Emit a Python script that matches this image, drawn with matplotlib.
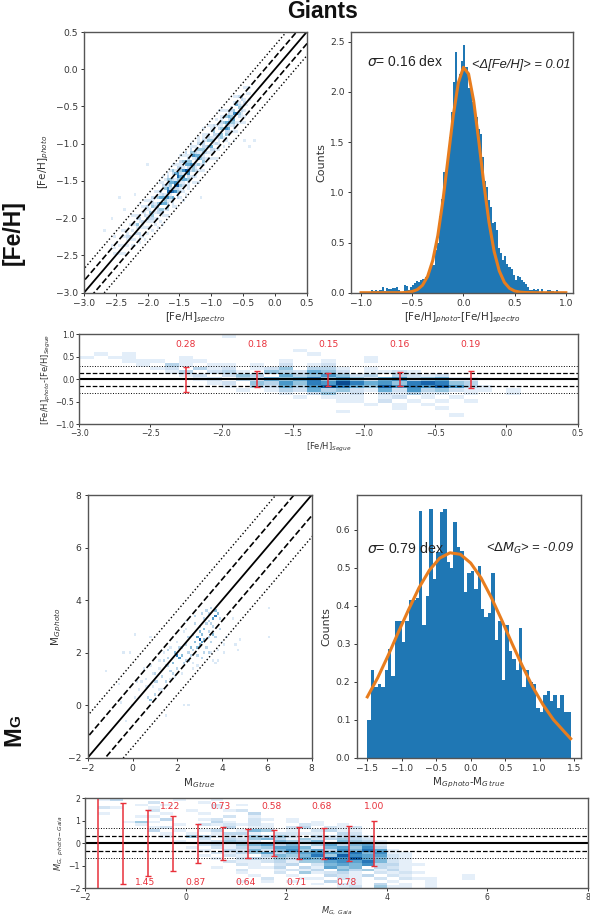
import numpy as np
import matplotlib
matplotlib.use('Agg')
import matplotlib.pyplot as plt

W, H = 590, 922

# histogram [Fe/H]
feh_edges_start = -1.0
feh_bin = 0.02
feh_counts = [.01, .01, 0, 0, .01, .03, .02, .03, .02, .03,
              .06, .02, .05, .04, .04, .05, .05, .06, .03, .01,
              .01, .08, .07, .03, .06, .08, .10, .12, .11, .13,
              .14, .16, .19, .22, .30, .28, .43, .50, .76, .93,
              1.20, 1.20, 1.35, 1.55, 1.80, 2.10, 2.40, 2.10, 2.18, 2.31,
              2.47, 2.25, 2.04, 2.02, 1.90, 1.78, 1.75, 1.63, 1.58, 1.35,
              1.11, 1.05, .92, .85, .69, .70, .62, .45, .40, .33,
              .37, .29, .26, .24, .18, .13, .17, .16, .13, .11,
              .09, .06, .03, .03, .04, .03, .04, .01, .04, .01,
              0, .03, .03, .02, 0, .03, .01, 0, .01, 0]
feh_fit_x = [-1, -.7, -.6, -.55, -.5, -.45, -.4, -.35, -.3, -.25, -.2, -.15, -.1, -.05, 0,
             .05, .1, .15, .2, .25, .3, .35, .4, .45, .5, .55, .6, .7, 1]
feh_fit_y = [0, 0, 0, .004, .012, .031, .074, .162, .32, .57, .92, 1.34, 1.76, 2.09, 2.245,
             2.18, 1.91, 1.51, 1.08, .70, .41, .217, .103, .044, .017, .006, .002, 0, 0]

# histogram MG
mg_start = -1.5
mg_bin = 0.05
mg_counts = [.10, .23, .185, .195, .185, .23, .285, .215, .36, .36,
             .305, .36, .415, .415, .42, .65, .35, .425, .655, .47,
             .54, .645, .655, .515, .50, .62, .555, .545, .435, .485,
             .49, .445, .505, .39, .37, .38, .485, .31, .36, .205,
             .35, .28, .26, .23, .34, .185, .23, .2, .195, .13,
             .12, .165, .175, .15, .165, .13, .165, .12, .12]
mg_fit_x = [-1.5, -1.35, -1.2, -1.05, -.9, -.75, -.6, -.45, -.3, -.15, 0,
            .15, .3, .45, .6, .75, .9, 1.05, 1.2, 1.35, 1.45]
mg_fit_y = [.16, .21, .268, .33, .39, .447, .493, .525, .539, .535, .512,
            .473, .421, .362, .30, .241, .186, .139, .10, .07, .05]

# 1:1 panel, [Fe/H]: offset from the diagonal (+.32 to -.32), columns from -2.68
feh_band = ['0000000000 0000100000 0001000100 1000100001 0000010000 0000000000',
            '0000100000 0100001000 0010011010 0120100100 0100001000 0100000000',
            '0000000100 0010010100 1001120301 2010210101 0010100100 0010010000',
            '0001000010 1001001012 0102030212 1301301201 1012001010 0102001000',
            '0000010100 0102010201 1020213041 2042131032 0102101201 1030200100',
            '0000100011 0010201102 0310324205 3143052302 1203012032 2041201000',
            '0000001002 0103102013 1042053416 2504314132 0312021304 1302010100',
            '0000100101 2001020130 2304162053 4172502413 2031203042 3503120000',
            '0000010010 1020110302 0350427164 3526041523 1302140325 4260310100',
            '0000001001 0102010123 1204351627 1405232031 2041023052 3403201000',
            '0000000100 0010201012 0230413052 3142031302 0120213024 1302110000',
            '0000000010 0100100101 1023021403 1203102013 1012010132 0210100000',
            '0000000000 0010010010 0102130201 2011020102 0101100102 1101010000',
            '0000000000 0000100100 1001020102 0101001010 0010010010 0100100000',
            '0000000000 0000001001 0010100100 1001010001 0001000100 0010010000',
            '0000000000 0000000000 0100010010 0010001000 0000100001 0000000000',
            '0000000000 0000000000 0001000000 0100000100 0000000000 0100000000']
feh_band_offsets = [.32, .28, .24, .20, .16, .12, .08, .04, 0,
                    -.04, -.08, -.12, -.16, -.20, -.24, -.28, -.32]
feh_band_x0 = -2.68
feh_extra_x = [-2.0, -2.7, -2.55, -2.45, -2.35, -1.18, -.4, -.32, -.5, -2.2]
feh_extra_y = [-1.3, -2.15, -2.02, -1.72, -1.88, -1.71, -1.06, -.96, -.98, -1.68]

# 1:1 panel, MG
mg_x = [3.7, 3.6, 3.8, 3.7, 3.5, 3.4, 3.3, 3.6, 3.9, 3.5, 3.0, 3.1, 2.9, 3.1, 3.0, 3.2, 2.8, 2.7, 3.2, 3.0,
        2.8, 3.4, 3.3, 3.5, 3.7, 2.6, 2.6, 2.4, 2.5, 2.4, 2.9, 3.2, 3.5, 3.8, 4.0, 4.2, 3.8, 3.7, 4.1,
        2.0, 2.1, 1.9, 2.2, 1.8, 1.6, 1.5, 1.7, 2.0, 2.3, 2.2, 1.4, 1.7, 2.0, 1.3, 1.1, 1.0, 1.2, .9, 1.0,
        .8, .7, 1.2, .5, .6, .3, .2, .1, 0, -.5, -.6, -1.2, -.3, .1, .8, -.1, -.4, 2.3, 2.5, 1.5, 4.7, 4.8,
        6.05, 6.05, 4.5, 4.6, 2.7, 2.3, 1.9, 3.4, 3.9,
        3.3, 3.4, 2.9, 2.7, 2.5, 2.2, 2.4, 3.0, 3.6, 3.1, 1.6, 1.4, 1.8, 1.2, 1.5, 2.7, 2.9, 3.6, 4.1, 3.2,
        1.0, .9, .7, .4, .6, 1.6, 2.1, 2.4, 2.8, 3.4, 1.3, 1.7, 2.5, 3.1, .8]
mg_y = [3.4, 3.3, 3.5, 3.6, 3.7, 3.5, 3.6, 3.0, 3.3, 3.1, 2.5, 2.4, 2.6, 2.7, 2.3, 2.5, 2.4, 2.7, 2.9, 3.0,
        3.1, 2.8, 2.2, 2.4, 2.6, 2.2, 1.9, 2.3, 2.6, 2.9, 1.9, 2.0, 2.0, 2.1, 2.4, 2.6, 1.7, 1.6, 2.0,
        1.9, 1.8, 2.0, 1.9, 1.6, 1.8, 1.5, 1.3, 1.4, 1.6, 1.2, 2.0, 2.2, 2.4, 1.1, .9, .9, 1.4, 1.2, .4,
        .2, .3, .6, 1.4, .7, .6, .9, .3, 0, .1, .8, 1.3, -.6, 2.7, 2.6, 2.0, 2.0, -.05, -.05, -.4, 2.1, 2.5,
        2.65, 3.7, 3.3, 2.3, 1.4, 2.8, 1.1, 3.2, 2.9,
        3.1, 2.6, 2.2, 2.1, 2.0, 2.2, 1.7, 2.8, 2.7, 1.8, 1.5, 1.7, 1.2, 1.7, .9, 1.6, 1.5, 1.7, 2.3, 3.3,
        1.2, .7, .7, .9, 1.0, 2.1, 2.2, 3.2, 3.4, 2.0, .6, 1.0, 1.7, 3.5, 1.5]
mg_w = [5, 4, 3, 3, 2, 2, 2, 2, 2, 2, 6, 4, 4, 3, 3, 3, 3, 2, 3, 2,
        2, 2, 2, 2, 2, 3, 2, 2, 2, 1, 2, 2, 1, 1, 1, 1, 1, 1, 1,
        5, 4, 3, 3, 3, 2, 2, 2, 2, 2, 1, 1, 1, 1, 2, 2, 2, 1, 1, 2,
        3, 2, 1, 1, 1, 1, 1, 1, 1, 1, 1, 1, 1, 1, 1, 1, 1, 1, 1, 1, 1, 1,
        1, 1, 1, 1, 1, 1, 1, 2, 2,
        2, 2, 3, 2, 2, 2, 2, 3, 3, 2, 2, 2, 2, 1, 2, 1, 1, 1, 1, 2,
        2, 1, 1, 1, 1, 2, 2, 1, 2, 2, 1, 1, 2, 2, 1]

# residual panel [Fe/H], rows from y=.96 down, columns from x=-3.0
seg_feh_rows = ['00000 00000 10000 00000 00000 00000 00000',
                '00000 00000 00000 00000 00000 00000 00000',
                '00000 00000 00000 00000 00000 00000 00000',
                '00000 00000 00000 00000 00000 00000 00000',
                '00000 00000 00000 10000 00000 00000 00000',
                '01010 00000 00000 01000 00000 00000 00000',
                '10110 00100 00000 00000 10000 00000 00000',
                '00011 10110 00001 00100 10000 00000 00000',
                '00001 03101 10102 01200 00000 00000 00000',
                '00000 12031 20124 03310 10000 00000 00000',
                '00000 01302 31043 25420 11210 00000 00000',
                '00000 00120 24305 34642 30321 20000 00000',
                '00000 00012 03254 57464 25634 51100 00000',
                '00000 00001 20436 47697 56478 74300 00000',
                '00000 00000 10325 36875 48676 86310 00000',
                '00000 00000 01013 25342 15263 42110 10000',
                '00000 00000 00001 02412 02131 10100 10000',
                '00000 00000 00000 10111 01201 01000 00000',
                '00000 00000 00000 00011 02010 10100 00000',
                '00000 00000 00000 00000 10101 00000 00000',
                '00000 00000 00000 00000 00100 10000 00000',
                '00000 00000 00000 00010 00000 00000 00000',
                '00000 00000 00000 00000 00000 01000 00000',
                '00000 00000 00000 00000 00000 00000 00000',
                '00000 00000 00000 00000 00000 00000 00000']

# residual panel MG, rows from y=1.94 down, columns from x=-2
gaia_mg_rows = ['0130 0001 0010 0000 0000 0000 0000 0000',
                '0000 0200 0100 0000 0000 0000 0000 0000',
                '0000 1010 0020 1000 0000 0000 0000 0000',
                '0210 0100 0010 0000 0000 0000 0000 0000',
                '0000 0200 1001 2000 0000 0000 0000 0000',
                '0100 0010 0100 0300 0000 0000 0000 0000',
                '0000 1100 0002 0100 0000 0000 0000 0000',
                '0000 0030 0120 0210 1000 0000 0000 0000',
                '0001 4100 0031 0200 1010 0000 0000 0000',
                '0000 1001 0212 1210 0210 1000 0000 0000',
                '0000 0120 0003 0110 2302 1200 0000 0000',
                '0000 0301 0130 1540 1023 1100 0000 0000',
                '0000 0010 1013 3102 2110 3200 0000 0000',
                '0000 0010 4312 1434 2032 3310 0000 0000',
                '0000 0000 0203 2453 1423 4320 0000 0000',
                '0000 0001 0124 3205 4350 5431 0000 0000',
                '0000 0000 0231 4563 5146 3562 0000 0000',
                '0000 0000 1021 3346 6515 6473 0000 0000',
                '0000 0000 0103 2525 7463 7586 1000 0000',
                '0000 0000 0021 3463 5676 6857 1100 0000',
                '0000 0000 0102 1035 4584 9766 2100 0000',
                '0000 0000 0010 2324 3659 7965 2100 0000',
                '0000 0000 0002 1123 1446 7685 2100 0000',
                '0000 0000 0000 2102 3025 6573 3110 0000',
                '0000 0000 0010 0113 0316 4503 2100 0000',
                '0000 0000 0000 2001 2130 5341 3100 0000',
                '0000 0000 0000 1002 0412 3102 1210 0000',
                '0000 0000 0000 0100 1003 2130 2100 0010',
                '0000 0000 0000 0020 0110 2102 0211 0010',
                '0000 0000 0000 1010 1003 0100 1001 0000',
                '0000 0000 0000 0000 0010 2103 0101 0000',
                '0000 0000 0000 0000 0000 1204 1101 0000']

# red error bars
seg_err_x = [-2.25, -1.75, -1.25, -.75, -.25]
seg_err = [.28, .18, .15, .16, .19]
seg_err_labels = ['0.28', '0.18', '0.15', '0.16', '0.19']
gaia_err_x = [-1.75, -1.25, -.75, -.25, .25, .75, 1.25, 1.75, 2.25, 2.75, 3.25, 3.75]
gaia_err = [2.5, 1.8, 1.45, 1.22, .87, .73, .64, .58, .71, .68, .78, 1.0]
gaia_top_x = [-.3, .7, 1.7, 2.7, 3.75]
gaia_top_labels = ['1.22', '0.73', '0.58', '0.68', '1.00']
gaia_bot_x = [-.8, .2, 1.2, 2.2, 3.2]
gaia_bot_labels = ['1.45', '0.87', '0.64', '0.71', '0.78']

feh_ticks = [-3.0, -2.5, -2.0, -1.5, -1.0, -.5, 0, .5]
RED = '#e8303a'
GREY = '#555555'
TXT = '#333333'

plt.rcParams['font.family'] = ['DejaVu Sans']
plt.rcParams['mathtext.default'] = 'regular'


def make_axes(fig, left, right, top, bottom):
    ax = fig.add_axes([left / W, 1 - bottom / H, (right - left) / W, (bottom - top) / H])
    for s in ax.spines.values():
        s.set_color(GREY)
        s.set_linewidth(1.0)
    ax.tick_params(labelsize=6.6, length=2.5, width=.7, pad=2, colors=TXT)
    return ax


def parse_rows(rows):
    return np.array([[int(c) for c in r.replace(' ', '')] for r in rows], dtype=float)


def diag_lines(ax, lo, hi, off1, off2):
    xs = np.array([lo - 3, hi + 3])
    ax.plot(xs, xs, color='k', lw=1.3)
    for o in [off1, -off1]:
        ax.plot(xs, xs + o, color='k', lw=1.2, ls='--')
    for o in [off2, -off2]:
        ax.plot(xs, xs + o, color='k', lw=1.0, ls=':')
    ax.set_xlim(lo, hi)
    ax.set_ylim(lo, hi)


def flat_lines(ax, off1, off2):
    ax.axhline(0, color='k', lw=1.5)
    for o in [off1, -off1]:
        ax.axhline(o, color='k', lw=.9, ls='--')
    for o in [off2, -off2]:
        ax.axhline(o, color='k', lw=.7, ls=':')


def residual_mesh(ax, rows, x0, dx, y_top, dy, vmax):
    z = parse_rows(rows)
    x_edges = x0 + dx * np.arange(z.shape[1] + 1)
    y_edges = y_top - dy * np.arange(z.shape[0] + 1)
    ax.pcolormesh(x_edges, y_edges, np.ma.masked_equal(z, 0), cmap='Blues', vmin=0, vmax=vmax)


fig = plt.figure(figsize=(W / 100, H / 100), dpi=100)

# [Fe/H] one to one
ax = make_axes(fig, 84, 306.7, 32, 292.7)
band = parse_rows(feh_band)
bx, by, bw = list(feh_extra_x), list(feh_extra_y), [1] * len(feh_extra_x)
for i, off in enumerate(feh_band_offsets):
    for j in range(band.shape[1]):
        if band[i, j] > 0:
            xc = feh_band_x0 + .04 * j
            bx.append(xc)
            by.append(xc + off)
            bw.append(band[i, j])
edges = -3 + .04 * np.arange(89) - .02
ax.hist2d(bx, by, bins=[edges, edges], weights=bw, cmap='Blues', vmin=0, vmax=8, cmin=.5)
diag_lines(ax, -3, .5, .16, .32)
ax.set_xticks(feh_ticks)
ax.set_yticks(feh_ticks)
ax.set_xlabel(r'[Fe/H]$_{\mathit{spectro}}$', fontsize=7.5, color=TXT, labelpad=2)
ax.set_ylabel(r'[Fe/H]$_{\mathit{photo}}$', fontsize=7.5, color=TXT, labelpad=3)

# [Fe/H] histogram
ax = make_axes(fig, 351, 573, 32, 292.7)
feh_left = feh_edges_start + feh_bin * np.arange(len(feh_counts))
ax.bar(feh_left, feh_counts, width=feh_bin, align='edge', color='#1f77b4')
ax.plot(feh_fit_x, feh_fit_y, color='#e87d1e', lw=2.2)
ax.set_xlim(-1.098, 1.07)
ax.set_ylim(0, 2.597)
ax.set_xticks([-1, -.5, 0, .5, 1])
ax.set_yticks([0, .5, 1, 1.5, 2, 2.5])
ax.set_xlabel(r'[Fe/H]$_{\mathit{photo}}$-[Fe/H]$_{\mathit{spectro}}$', fontsize=7.5, color=TXT, labelpad=2)
ax.set_ylabel('Counts', fontsize=8, color=TXT, labelpad=3)
ax.text(-.945, 2.3, r'$\mathit{\sigma}$= 0.16 dex', fontsize=10, color='#222222', va='center',
        family='Liberation Sans')
ax.text(.08, 2.27, '<Δ[Fe/H]> = 0.01', fontsize=9.3, color='#222222', va='center', style='italic',
        family='Liberation Sans')

# [Fe/H] residuals
ax = make_axes(fig, 79.3, 577.5, 334.3, 424.3)
ax.tick_params(labelsize=5.6, length=2, pad=1.5)
residual_mesh(ax, seg_feh_rows, -3.0, .1, 1.0, .08, 10)
flat_lines(ax, .15, .30)
ax.errorbar(seg_err_x, np.zeros(len(seg_err)), yerr=seg_err, fmt='none', ecolor=RED, elinewidth=1.1, capsize=2.2,
            capthick=1)
for x, t in zip(seg_err_x, seg_err_labels):
    ax.text(x, .77, t, color=RED, fontsize=6.6, ha='center', va='center')
ax.set_xlim(-3, .5)
ax.set_ylim(-1, 1)
ax.set_xticks(feh_ticks)
ax.set_yticks([-1, -.5, 0, .5, 1])
ax.set_xlabel(r'[Fe/H]$_{\mathit{Segue}}$', fontsize=6, color=TXT, labelpad=2)
ax.set_ylabel(r'[Fe/H]$_{\mathit{photo}}$-[Fe/H]$_{\mathit{Segue}}$', fontsize=6, color=TXT, labelpad=2)

# MG one to one
ax = make_axes(fig, 87.7, 311.7, 495, 757.7)
edges = -2 + .1 * np.arange(101) - .05
ax.hist2d(mg_x, mg_y, bins=[edges, edges], weights=mg_w, cmap='Blues', vmin=0, vmax=7, cmin=.5)
diag_lines(ax, -2, 8, .79, 1.6)
ax.set_xticks([-2, 0, 2, 4, 6, 8])
ax.set_yticks([-2, 0, 2, 4, 6, 8])
ax.set_xlabel(r'M$_{\mathit{G\,true}}$', fontsize=7.5, color=TXT, labelpad=2)
ax.set_ylabel(r'M$_{\mathit{G\,photo}}$', fontsize=7.5, color=TXT, labelpad=3)

# MG histogram
ax = make_axes(fig, 356.7, 581, 495, 757.7)
mg_left = mg_start + mg_bin * np.arange(len(mg_counts))
ax.bar(mg_left, mg_counts, width=mg_bin, align='edge', color='#1f77b4')
ax.plot(mg_fit_x, mg_fit_y, color='#e87d1e', lw=2.2)
ax.set_xlim(-1.654, 1.6)
ax.set_ylim(0, .691)
ax.set_xticks([-1.5, -1, -.5, 0, .5, 1, 1.5])
ax.set_yticks([0, .1, .2, .3, .4, .5, .6])
ax.set_xlabel(r'M$_{\mathit{G\,photo}}$-M$_{\mathit{G\,true}}$', fontsize=7.5, color=TXT, labelpad=2)
ax.set_ylabel('Counts', fontsize=8, color=TXT, labelpad=3)
ax.text(-1.5, .55, r'$\mathit{\sigma}$= 0.79 dex', fontsize=10.2, color='#222222', va='center',
        family='Liberation Sans')
ax.text(.215, .55, r'<$\mathit{\Delta M_G}$> = -0.09', fontsize=9.3, color='#222222', va='center', style='italic',
        family='Liberation Sans')

# MG residuals
ax = make_axes(fig, 85, 588, 798, 888.3)
ax.tick_params(labelsize=5.6, length=2, pad=1.5)
residual_mesh(ax, gaia_mg_rows, -2.0, .25, 2.0, .125, 11)
flat_lines(ax, .33, .66)
ax.errorbar(gaia_err_x, np.zeros(len(gaia_err)), yerr=gaia_err, fmt='none', ecolor=RED, elinewidth=1.1, capsize=2.2,
            capthick=1)
for x, t in zip(gaia_top_x, gaia_top_labels):
    ax.text(x, 1.63, t, color=RED, fontsize=6.6, ha='center', va='center')
for x, t in zip(gaia_bot_x, gaia_bot_labels):
    ax.text(x, -1.75, t, color=RED, fontsize=6.6, ha='center', va='center')
ax.set_xlim(-2, 8)
ax.set_ylim(-2, 2)
ax.set_xticks([-2, 0, 2, 4, 6, 8])
ax.set_yticks([-2, -1, 0, 1, 2])
ax.set_xlabel(r'$\mathit{M_{G,\ Gaia}}$', fontsize=6, color=TXT, labelpad=2)
ax.set_ylabel(r'$\mathit{M_{G,\ photo-Gaia}}$', fontsize=6, color=TXT, labelpad=2)

# big titles
fig.text(323 / W, 1 - 12 / H, 'Giants', fontsize=16.5, fontweight='bold', family='Liberation Sans',
         ha='center', va='center', color='#111111')
fig.text(20 / W, 1 - 233 / H, '[Fe/H]', fontsize=16.5, fontweight='bold', family='Liberation Sans',
         rotation=90, ha='center', va='baseline', rotation_mode='anchor', color='#111111')
fig.text(20 / W, 1 - 746 / H, 'M', fontsize=17, fontweight='bold', family='Liberation Sans',
         rotation=90, ha='left', va='baseline', rotation_mode='anchor', color='#111111')
fig.text(20 / W, 1 - 727 / H, 'G', fontsize=11, fontweight='bold', family='Liberation Sans',
         rotation=90, ha='left', va='baseline', rotation_mode='anchor', color='#111111')

fig.savefig('out.png', dpi=100)
